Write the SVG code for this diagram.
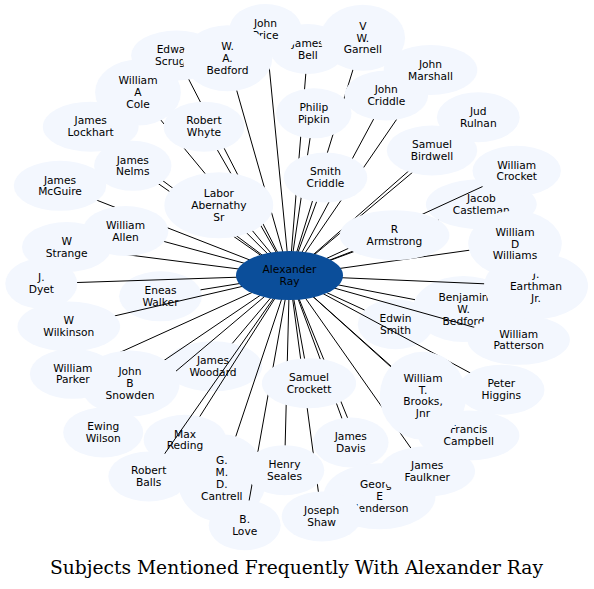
<svg xmlns="http://www.w3.org/2000/svg" width="594" height="589" viewBox="0 0 594 589">
<style>
.n ellipse{fill:#f3f7fe;stroke:none}
.c ellipse{fill:#0b4e9a;stroke:none}
text{font-family:"DejaVu Sans","Liberation Sans",sans-serif;font-size:10.67px;text-anchor:middle;fill:#000}
.t{font-family:"DejaVu Serif","Liberation Serif",serif;font-size:18.67px}
#edges line{stroke:#000;stroke-width:1}
</style>
<rect width="594" height="589" fill="#fff"/>
<!-- tier A nodes (edges drawn over them) -->
<g id="castleman" class="n"><ellipse cx="481.3" cy="204.2" rx="55.4" ry="25"/><text><tspan x="481.3" y="201.95">Jacob</tspan><tspan x="481.3" y="213.85">Castleman</tspan></text></g>
<g id="cantrell" class="n"><ellipse cx="221.8" cy="478.2" rx="44.6" ry="44"/><text><tspan x="221.8" y="464.05">G.</tspan><tspan x="221.8" y="475.95">M.</tspan><tspan x="221.8" y="487.85">D.</tspan><tspan x="221.8" y="499.75">Cantrell</tspan></text></g>
<g id="walker" class="n"><ellipse cx="160.5" cy="296.3" rx="41.4" ry="25"/><text><tspan x="160.5" y="294.05">Eneas</tspan><tspan x="160.5" y="305.95">Walker</tspan></text></g>
<g id="reding" class="n"><ellipse cx="185" cy="439.8" rx="41.4" ry="25"/><text><tspan x="185" y="437.55">Max</tspan><tspan x="185" y="449.45">Reding</tspan></text></g>
<g id="edwin" class="n"><ellipse cx="395.5" cy="324.2" rx="37.7" ry="25"/><text><tspan x="395.5" y="321.95">Edwin</tspan><tspan x="395.5" y="333.85">Smith</tspan></text></g>
<g id="woodard" class="n"><ellipse cx="213" cy="366.3" rx="49.1" ry="25"/><text><tspan x="213" y="364.05">James</tspan><tspan x="213" y="375.95">Woodard</tspan></text></g>
<g id="benjamin" class="n"><ellipse cx="463.5" cy="309" rx="50.6" ry="33"/><text><tspan x="463.5" y="300.8">Benjamin</tspan><tspan x="463.5" y="312.7">W.</tspan><tspan x="463.5" y="324.6">Bedford</tspan></text></g>
<g id="edges">
<line x1="289.5" y1="275.5" x2="265.5" y2="29"/>
<line x1="289.5" y1="275.5" x2="176.5" y2="55.5"/>
<line x1="289.5" y1="275.5" x2="227.5" y2="58.2"/>
<line x1="289.5" y1="275.5" x2="307.8" y2="49"/>
<line x1="289.5" y1="275.5" x2="362.8" y2="37.8"/>
<line x1="289.5" y1="275.5" x2="430.5" y2="70"/>
<line x1="289.5" y1="275.5" x2="386.3" y2="95.5"/>
<line x1="289.5" y1="275.5" x2="313.8" y2="113.3"/>
<line x1="289.5" y1="275.5" x2="478.3" y2="117.2"/>
<line x1="289.5" y1="275.5" x2="432" y2="150.5"/>
<line x1="289.5" y1="275.5" x2="516.7" y2="170.8"/>
<line x1="289.5" y1="275.5" x2="438.5" y2="220.1"/>
<line x1="289.5" y1="275.5" x2="325.5" y2="177.5"/>
<line x1="289.5" y1="275.5" x2="138" y2="92.5"/>
<line x1="289.5" y1="275.5" x2="90.7" y2="126.7"/>
<line x1="289.5" y1="275.5" x2="204" y2="126.7"/>
<line x1="289.5" y1="275.5" x2="132.8" y2="165.8"/>
<line x1="289.5" y1="275.5" x2="60" y2="185.8"/>
<line x1="289.5" y1="275.5" x2="218.8" y2="205.2"/>
<line x1="289.5" y1="275.5" x2="125.5" y2="231"/>
<line x1="289.5" y1="275.5" x2="66.7" y2="247"/>
<line x1="289.5" y1="275.5" x2="41.3" y2="283.7"/>
<line x1="289.5" y1="275.5" x2="200.5" y2="289.85"/>
<line x1="289.5" y1="275.5" x2="68.8" y2="326.5"/>
<line x1="289.5" y1="275.5" x2="72.8" y2="373.8"/>
<line x1="289.5" y1="275.5" x2="130" y2="383.5"/>
<line x1="289.5" y1="275.5" x2="232.4" y2="343.3"/>
<line x1="289.5" y1="275.5" x2="103.2" y2="432.5"/>
<line x1="289.5" y1="275.5" x2="199.8" y2="416.5"/>
<line x1="289.5" y1="275.5" x2="148.7" y2="476.5"/>
<line x1="289.5" y1="275.5" x2="235.8" y2="436.4"/>
<line x1="289.5" y1="275.5" x2="284.5" y2="470.2"/>
<line x1="289.5" y1="275.5" x2="244.7" y2="525.2"/>
<line x1="289.5" y1="275.5" x2="321.7" y2="516.5"/>
<line x1="289.5" y1="275.5" x2="309" y2="383.2"/>
<line x1="289.5" y1="275.5" x2="350.8" y2="442.5"/>
<line x1="289.5" y1="275.5" x2="379.5" y2="496.2"/>
<line x1="289.5" y1="275.5" x2="427.2" y2="471.3"/>
<line x1="289.5" y1="275.5" x2="423" y2="395.8"/>
<line x1="289.5" y1="275.5" x2="468.7" y2="435.5"/>
<line x1="289.5" y1="275.5" x2="501.3" y2="389.7"/>
<line x1="289.5" y1="275.5" x2="518.7" y2="339.8"/>
<line x1="289.5" y1="275.5" x2="415" y2="299.7"/>
<line x1="289.5" y1="275.5" x2="364.5" y2="310"/>
<line x1="289.5" y1="275.5" x2="536" y2="286"/>
<line x1="289.5" y1="275.5" x2="515" y2="243.8"/>
<line x1="289.5" y1="275.5" x2="394.5" y2="235.2"/>
</g>
<!-- tier B nodes -->
<g id="bell" class="n"><ellipse cx="307.8" cy="49" rx="37.8" ry="25"/><text><tspan x="307.8" y="46.75">James</tspan><tspan x="307.8" y="58.65">Bell</tspan></text></g>
<g id="cole" class="n"><ellipse cx="138" cy="92.5" rx="42.9" ry="33"/><text><tspan x="138" y="84.3">William</tspan><tspan x="138" y="96.2">A</tspan><tspan x="138" y="108.1">Cole</tspan></text></g>
<g id="scruggs" class="n"><ellipse cx="176.5" cy="55.5" rx="45.4" ry="25"/><text><tspan x="176.5" y="53.25">Edward</tspan><tspan x="176.5" y="65.15">Scruggs</tspan></text></g>
<g id="price" class="n"><ellipse cx="265.5" cy="29" rx="36" ry="25"/><text><tspan x="265.5" y="26.75">John</tspan><tspan x="265.5" y="38.65">Price</tspan></text></g>
<g id="wabedford" class="n"><ellipse cx="227.5" cy="58.2" rx="44.8" ry="33"/><text><tspan x="227.5" y="50">W.</tspan><tspan x="227.5" y="61.9">A.</tspan><tspan x="227.5" y="73.8">Bedford</tspan></text></g>
<g id="garnell" class="n"><ellipse cx="362.8" cy="37.8" rx="42.3" ry="33"/><text><tspan x="362.8" y="29.6">V</tspan><tspan x="362.8" y="41.5">W.</tspan><tspan x="362.8" y="53.4">Garnell</tspan></text></g>
<g id="jcriddle" class="n"><ellipse cx="386.3" cy="95.5" rx="41.8" ry="25"/><text><tspan x="386.3" y="93.25">John</tspan><tspan x="386.3" y="105.15">Criddle</tspan></text></g>
<g id="marshall" class="n"><ellipse cx="430.5" cy="70" rx="46.8" ry="25"/><text><tspan x="430.5" y="67.75">John</tspan><tspan x="430.5" y="79.65">Marshall</tspan></text></g>
<g id="pipkin" class="n"><ellipse cx="313.8" cy="113.3" rx="37.7" ry="25"/><text><tspan x="313.8" y="111.05">Philip</tspan><tspan x="313.8" y="122.95">Pipkin</tspan></text></g>
<g id="rulnan" class="n"><ellipse cx="478.3" cy="117.2" rx="41.4" ry="25"/><text><tspan x="478.3" y="114.95">Jud</tspan><tspan x="478.3" y="126.85">Rulnan</tspan></text></g>
<g id="birdwell" class="n"><ellipse cx="432" cy="150.5" rx="45.2" ry="25"/><text><tspan x="432" y="148.25">Samuel</tspan><tspan x="432" y="160.15">Birdwell</tspan></text></g>
<g id="crocket" class="n"><ellipse cx="516.7" cy="170.8" rx="44.2" ry="25"/><text><tspan x="516.7" y="168.55">William</tspan><tspan x="516.7" y="180.45">Crocket</tspan></text></g>
<g id="scriddle" class="n"><ellipse cx="325.5" cy="177.5" rx="41.8" ry="25"/><text><tspan x="325.5" y="175.25">Smith</tspan><tspan x="325.5" y="187.15">Criddle</tspan></text></g>
<g id="lockhart" class="n"><ellipse cx="90.7" cy="126.7" rx="47.9" ry="25"/><text><tspan x="90.7" y="124.45">James</tspan><tspan x="90.7" y="136.35">Lockhart</tspan></text></g>
<g id="whyte" class="n"><ellipse cx="204" cy="126.7" rx="40.4" ry="25"/><text><tspan x="204" y="124.45">Robert</tspan><tspan x="204" y="136.35">Whyte</tspan></text></g>
<g id="nelms" class="n"><ellipse cx="132.8" cy="165.8" rx="38.7" ry="25"/><text><tspan x="132.8" y="163.55">James</tspan><tspan x="132.8" y="175.45">Nelms</tspan></text></g>
<g id="mcguire" class="n"><ellipse cx="60" cy="185.8" rx="46.2" ry="25"/><text><tspan x="60" y="183.55">James</tspan><tspan x="60" y="195.45">McGuire</tspan></text></g>
<g id="abernathy" class="n"><ellipse cx="218.8" cy="205.2" rx="54.4" ry="33"/><text><tspan x="218.8" y="197">Labor</tspan><tspan x="218.8" y="208.9">Abernathy</tspan><tspan x="218.8" y="220.8">Sr</tspan></text></g>
<g id="allen" class="n"><ellipse cx="125.5" cy="231" rx="42.9" ry="25"/><text><tspan x="125.5" y="228.75">William</tspan><tspan x="125.5" y="240.65">Allen</tspan></text></g>
<g id="strange" class="n"><ellipse cx="66.7" cy="247" rx="44.7" ry="25"/><text><tspan x="66.7" y="244.75">W</tspan><tspan x="66.7" y="256.65">Strange</tspan></text></g>
<g id="dyet" class="n"><ellipse cx="41.3" cy="283.7" rx="36" ry="25"/><text><tspan x="41.3" y="281.45">J.</tspan><tspan x="41.3" y="293.35">Dyet</tspan></text></g>
<g id="wilkinson" class="n"><ellipse cx="68.8" cy="326.5" rx="51.3" ry="25"/><text><tspan x="68.8" y="324.25">W</tspan><tspan x="68.8" y="336.15">Wilkinson</tspan></text></g>
<g id="snowden" class="n"><ellipse cx="130" cy="383.5" rx="49.6" ry="33"/><text><tspan x="130" y="375.3">John</tspan><tspan x="130" y="387.2">B</tspan><tspan x="130" y="399.1">Snowden</tspan></text></g>
<g id="parker" class="n"><ellipse cx="72.8" cy="373.8" rx="42.9" ry="25"/><text><tspan x="72.8" y="371.55">William</tspan><tspan x="72.8" y="383.45">Parker</tspan></text></g>
<g id="ewing" class="n"><ellipse cx="103.2" cy="432.5" rx="40" ry="25"/><text><tspan x="103.2" y="430.25">Ewing</tspan><tspan x="103.2" y="442.15">Wilson</tspan></text></g>
<g id="balls" class="n"><ellipse cx="148.7" cy="476.5" rx="40.4" ry="25"/><text><tspan x="148.7" y="474.25">Robert</tspan><tspan x="148.7" y="486.15">Balls</tspan></text></g>
<g id="love" class="n"><ellipse cx="244.7" cy="525.2" rx="36" ry="25"/><text><tspan x="244.7" y="522.95">B.</tspan><tspan x="244.7" y="534.85">Love</tspan></text></g>
<g id="seales" class="n"><ellipse cx="284.5" cy="470.2" rx="39.8" ry="25"/><text><tspan x="284.5" y="467.95">Henry</tspan><tspan x="284.5" y="479.85">Seales</tspan></text></g>
<g id="henderson" class="n"><ellipse cx="379.5" cy="496.2" rx="56" ry="33"/><text><tspan x="379.5" y="488">George</tspan><tspan x="379.5" y="499.9">E</tspan><tspan x="379.5" y="511.8">Henderson</tspan></text></g>
<g id="shaw" class="n"><ellipse cx="321.7" cy="516.5" rx="40" ry="25"/><text><tspan x="321.7" y="514.25">Joseph</tspan><tspan x="321.7" y="526.15">Shaw</tspan></text></g>
<g id="crockett" class="n"><ellipse cx="309" cy="383.2" rx="47.1" ry="25"/><text><tspan x="309" y="380.95">Samuel</tspan><tspan x="309" y="392.85">Crockett</tspan></text></g>
<g id="davis" class="n"><ellipse cx="350.8" cy="442.5" rx="37.8" ry="25"/><text><tspan x="350.8" y="440.25">James</tspan><tspan x="350.8" y="452.15">Davis</tspan></text></g>
<g id="faulkner" class="n"><ellipse cx="427.2" cy="471.3" rx="47.8" ry="25"/><text><tspan x="427.2" y="469.05">James</tspan><tspan x="427.2" y="480.95">Faulkner</tspan></text></g>
<g id="campbell" class="n"><ellipse cx="468.7" cy="435.5" rx="50.7" ry="25"/><text><tspan x="468.7" y="433.25">Francis</tspan><tspan x="468.7" y="445.15">Campbell</tspan></text></g>
<g id="brooks" class="n"><ellipse cx="423" cy="395.8" rx="43.3" ry="44"/><text><tspan x="423" y="381.65">William</tspan><tspan x="423" y="393.55">T.</tspan><tspan x="423" y="405.45">Brooks,</tspan><tspan x="423" y="417.35">Jnr</tspan></text></g>
<g id="higgins" class="n"><ellipse cx="501.3" cy="389.7" rx="43.2" ry="25"/><text><tspan x="501.3" y="387.45">Peter</tspan><tspan x="501.3" y="399.35">Higgins</tspan></text></g>
<g id="patterson" class="n"><ellipse cx="518.7" cy="339.8" rx="51.2" ry="25"/><text><tspan x="518.7" y="337.55">William</tspan><tspan x="518.7" y="349.45">Patterson</tspan></text></g>
<g id="earthman" class="n"><ellipse cx="536" cy="286" rx="52" ry="33"/><text><tspan x="536" y="277.8">J.</tspan><tspan x="536" y="289.7">Earthman</tspan><tspan x="536" y="301.6">Jr.</tspan></text></g>
<g id="williams" class="n"><ellipse cx="515" cy="243.8" rx="46.8" ry="33"/><text><tspan x="515" y="235.6">William</tspan><tspan x="515" y="247.5">D</tspan><tspan x="515" y="259.4">Williams</tspan></text></g>
<g id="armstrong" class="n"><ellipse cx="394.5" cy="235.2" rx="54.9" ry="25"/><text><tspan x="394.5" y="232.95">R</tspan><tspan x="394.5" y="244.85">Armstrong</tspan></text></g>
<g id="ray" class="c"><ellipse cx="289.5" cy="275.5" rx="53.5" ry="24.5"/><text><tspan x="289.5" y="273.25">Alexander</tspan><tspan x="289.5" y="285.15">Ray</tspan></text></g>
<text class="t" x="296.5" y="574">Subjects Mentioned Frequently With Alexander Ray</text>
</svg>
